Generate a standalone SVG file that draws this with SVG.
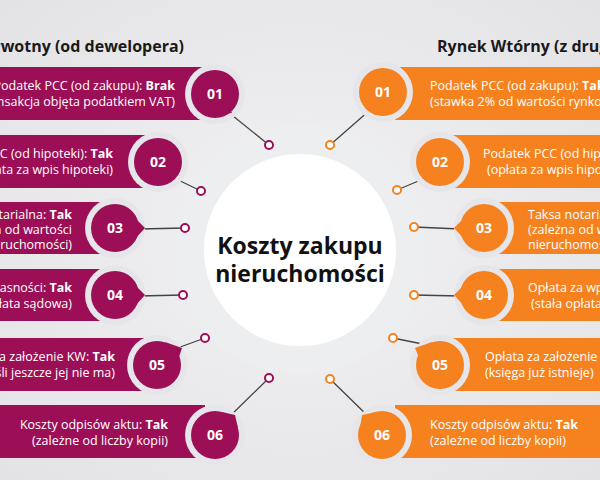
<svg xmlns="http://www.w3.org/2000/svg" width="600" height="480" viewBox="0 0 600 480">
<defs>
<radialGradient id="bg" cx="50%" cy="50%" r="70%"><stop offset="0" stop-color="#f2f2f4"/><stop offset="1" stop-color="#e3e3e6"/></radialGradient>
</defs>
<style>
text{font-family:"Open Sans","Noto Sans","Liberation Sans",sans-serif}
.t{font-size:12.5px;fill:#fff}
.b{font-weight:bold}
.n{font-size:14px;font-weight:bold;fill:#fff;text-anchor:middle}
.h{font-size:16px;font-weight:bold;fill:#1a1a1a}
.m{fill:#9c0f56}.o{fill:#f5821f}
.ring{fill:#e6e6ea}
.ln{stroke:#444;stroke-width:1.3;fill:none}
.dm{fill:#fff;stroke:#9c0f56;stroke-width:2}
.do{fill:#fff;stroke:#f5821f;stroke-width:2}
</style>
<rect width="600" height="480" fill="url(#bg)"/>
<circle cx="300" cy="250" r="125" fill="#eceef0"/>
<circle cx="300" cy="250" r="96" fill="#fff"/>
<g id="center"><text x="300" y="254" font-size="23" font-weight="bold" fill="#111" text-anchor="middle">Koszty zakupu</text><text x="300" y="282" font-size="23" font-weight="bold" fill="#111" text-anchor="middle">nieruchomości</text></g>
<text class="h" x="184" y="52" text-anchor="end">Rynek Pierwotny (od dewelopera)</text>
<text class="h" x="437" y="52">Rynek Wtórny (z drugiej ręki)</text>
<g id="connectors">
<path class="ln" d="M228 112L269 145M170 176L201 191M139 229L185 228M139 296L183 295M172 350L205 338M228 418L269 378"/>
<path class="ln" d="M370 110L330 145M428 177L397 190M460 229L414 227M460 296L414 295M452 350L393 338M370 418L330 379"/>
<circle class="dm" cx="269" cy="145" r="4"/><circle class="dm" cx="201" cy="191" r="4"/><circle class="dm" cx="185" cy="228" r="4"/><circle class="dm" cx="183" cy="295" r="4"/><circle class="dm" cx="205" cy="338" r="4"/><circle class="dm" cx="269" cy="378" r="4"/>
<circle class="do" cx="330" cy="145" r="4"/><circle class="do" cx="397" cy="190" r="4"/><circle class="do" cx="414" cy="227" r="4"/><circle class="do" cx="414" cy="295" r="4"/><circle class="do" cx="393" cy="338" r="4"/><circle class="do" cx="330" cy="379" r="4"/>
</g>
<g id="L1"><rect class="m" x="0" y="67" width="205" height="53"/><circle class="ring" cx="215" cy="94" r="30"/><circle class="m" cx="215" cy="94" r="24"/><path class="m" d="M205 116L232 113L225 100Z"/><text class="n" x="215" y="99">01</text>
<text class="t" x="175" y="90" text-anchor="end">Podatek PCC (od zakupu): <tspan class="b">Brak</tspan></text><text class="t" x="175" y="106" text-anchor="end">(transakcja objęta podatkiem VAT)</text></g>
<g id="L2"><rect class="m" x="0" y="135" width="150" height="53"/><circle class="ring" cx="158" cy="162" r="30"/><circle class="m" cx="158" cy="162" r="24"/><path class="m" d="M160 186L172 177L178 166Z"/><text class="n" x="158" y="167">02</text>
<text class="t" x="113" y="158" text-anchor="end">Podatek PCC (od hipoteki): <tspan class="b">Tak</tspan></text><text class="t" x="113" y="174" text-anchor="end">(opłata za wpis hipoteki)</text></g>
<g id="L3"><rect class="m" x="0" y="202" width="105" height="52"/><circle class="ring" cx="115" cy="228" r="30"/><circle class="m" cx="115" cy="228" r="24"/><path class="m" d="M135 218L145 228L135 239Z"/><text class="n" x="115" y="233">03</text>
<text class="t" x="72" y="219" text-anchor="end">Taksa notarialna: <tspan class="b">Tak</tspan></text><text class="t" x="72" y="234" text-anchor="end">(zależna od wartości</text><text class="t" x="72" y="249" text-anchor="end">nieruchomości)</text></g>
<g id="L4"><rect class="m" x="0" y="269" width="105" height="52"/><circle class="ring" cx="115" cy="295" r="30"/><circle class="m" cx="115" cy="295" r="24"/><path class="m" d="M135 285L145 295L135 306Z"/><text class="n" x="115" y="300">04</text>
<text class="t" x="72" y="292" text-anchor="end">Opłata za wpis własności: <tspan class="b">Tak</tspan></text><text class="t" x="72" y="308" text-anchor="end">(stała opłata sądowa)</text></g>
<g id="L5"><rect class="m" x="0" y="338" width="150" height="53"/><circle class="ring" cx="157" cy="365" r="30"/><circle class="m" cx="157" cy="365" r="24"/><path class="m" d="M165 342L182 348L178 360Z"/><text class="n" x="157" y="370">05</text>
<text class="t" x="115" y="361" text-anchor="end">Opłata za założenie KW: <tspan class="b">Tak</tspan></text><text class="t" x="115" y="377" text-anchor="end">(jeśli jeszcze jej nie ma)</text></g>
<g id="L6"><rect class="m" x="0" y="405" width="205" height="53"/><circle class="ring" cx="215" cy="435" r="30"/><circle class="m" cx="215" cy="435" r="24"/><path class="m" d="M222 412L235 415L238 428Z"/><text class="n" x="215" y="440">06</text>
<text class="t" x="168" y="429" text-anchor="end">Koszty odpisów aktu: <tspan class="b">Tak</tspan></text><text class="t" x="168" y="445" text-anchor="end">(zależne od liczby kopii)</text></g>
<g id="R1"><rect class="o" x="395" y="67" width="205" height="53"/><circle class="ring" cx="383" cy="92" r="30"/><circle class="o" cx="383" cy="92" r="24"/><path class="o" d="M365 108L375 115L390 114Z"/><text class="n" x="383" y="97">01</text>
<text class="t" x="430" y="90">Podatek PCC (od zakupu): <tspan class="b">Tak</tspan></text><text class="t" x="430" y="106">(stawka 2% od wartości rynkowej)</text></g>
<g id="R2"><rect class="o" x="450" y="135" width="150" height="53"/><circle class="ring" cx="440" cy="162" r="30"/><circle class="o" cx="440" cy="162" r="24"/><path class="o" d="M418 170L426 180L436 186Z"/><text class="n" x="440" y="167">02</text>
<text class="t" x="483" y="158">Podatek PCC (od hipoteki): <tspan class="b">Tak</tspan></text><text class="t" x="487" y="174">(opłata za wpis hipoteki)</text></g>
<g id="R3"><rect class="o" x="495" y="202" width="105" height="52"/><circle class="ring" cx="484" cy="228" r="30"/><circle class="o" cx="484" cy="228" r="24"/><path class="o" d="M464 218L454 228L464 239Z"/><text class="n" x="484" y="233">03</text>
<text class="t" x="528" y="219">Taksa notarialna: <tspan class="b">Tak</tspan></text><text class="t" x="528" y="234">(zależna od wartości</text><text class="t" x="528" y="249">nieruchomości)</text></g>
<g id="R4"><rect class="o" x="495" y="269" width="105" height="52"/><circle class="ring" cx="484" cy="295" r="30"/><circle class="o" cx="484" cy="295" r="24"/><path class="o" d="M464 285L454 295L464 306Z"/><text class="n" x="484" y="300">04</text>
<text class="t" x="528" y="292">Opłata za wpis własności: <tspan class="b">Tak</tspan></text><text class="t" x="531" y="308">(stała opłata sądowa)</text></g>
<g id="R5"><rect class="o" x="450" y="338" width="150" height="53"/><circle class="ring" cx="440" cy="365" r="30"/><circle class="o" cx="440" cy="365" r="24"/><path class="o" d="M432 342L415 348L420 360Z"/><text class="n" x="440" y="370">05</text>
<text class="t" x="485" y="361">Opłata za założenie KW: <tspan class="b">Nie</tspan></text><text class="t" x="485" y="377">(księga już istnieje)</text></g>
<g id="R6"><rect class="o" x="395" y="405" width="205" height="53"/><circle class="ring" cx="382" cy="435" r="30"/><circle class="o" cx="382" cy="435" r="24"/><path class="o" d="M376 412L362 415L360 428Z"/><text class="n" x="382" y="440">06</text>
<text class="t" x="430" y="429">Koszty odpisów aktu: <tspan class="b">Tak</tspan></text><text class="t" x="430" y="445">(zależne od liczby kopii)</text></g>
</svg>
